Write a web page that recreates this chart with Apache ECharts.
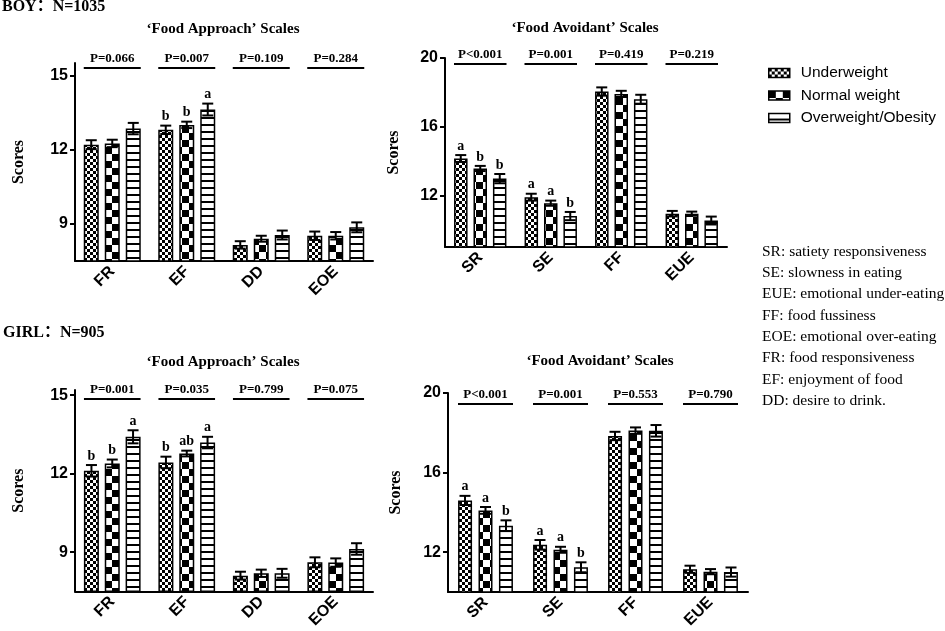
<!doctype html>
<html>
<head>
<meta charset="utf-8">
<title>CEBQ scales by weight status</title>
<script src="https://cdn.jsdelivr.net/npm/echarts@6/dist/echarts.min.js"></script>
<style>
  html, body { margin: 0; padding: 0; background: #fff; }
  #chart { width: 945px; height: 631px; }
</style>
</head>
<body>
<div id="chart"></div>
<script>
// categories and groups
var approachCats = ['FR', 'EF', 'DD', 'EOE'];
var avoidCats = ['SR', 'SE', 'FF', 'EUE'];
var groups = ['Underweight', 'Normal weight', 'Overweight/Obesity'];

// BOY - food approach (rows: underweight, normal, overweight)
var boyApproachMean = [[12.2, 12.8, 8.15, 8.52], [12.25, 13.0, 8.4, 8.52], [12.85, 13.62, 8.55, 8.86]];
var boyApproachErr = [[0.18, 0.17, 0.15, 0.17], [0.15, 0.13, 0.12, 0.15], [0.23, 0.24, 0.18, 0.2]];
var boyApproachSig = [['', 'b', '', ''], ['', 'b', '', ''], ['', 'a', '', '']];
var boyApproachP = ['P=0.066', 'P=0.007', 'P=0.109', 'P=0.284'];

// BOY - food avoidant
var boyAvoidMean = [[14.15, 11.9, 18.05, 10.94], [13.57, 11.55, 17.91, 10.94], [12.98, 10.8, 17.6, 10.54]];
var boyAvoidErr = [[0.2, 0.2, 0.24, 0.16], [0.15, 0.15, 0.18, 0.12], [0.27, 0.24, 0.26, 0.23]];
var boyAvoidSig = [['a', 'a', '', ''], ['b', 'a', '', ''], ['b', 'b', '', '']];
var boyAvoidP = ['P<0.001', 'P=0.001', 'P=0.419', 'P=0.219'];

// GIRL - food approach
var girlApproachMean = [[12.11, 12.43, 8.1, 8.61], [12.39, 12.77, 8.19, 8.6], [13.41, 13.19, 8.19, 9.12]];
var girlApproachErr = [[0.22, 0.22, 0.15, 0.19], [0.15, 0.11, 0.14, 0.16], [0.25, 0.22, 0.17, 0.22]];
var girlApproachSig = [['b', 'b', '', ''], ['b', 'ab', '', ''], ['a', 'a', '', '']];
var girlApproachP = ['P=0.001', 'P=0.035', 'P=0.799', 'P=0.075'];

// GIRL - food avoidant
var girlAvoidMean = [[14.6, 12.37, 17.84, 11.14], [14.1, 12.12, 18.11, 11.02], [13.33, 11.24, 18.1, 11.0]];
var girlAvoidErr = [[0.23, 0.24, 0.21, 0.18], [0.17, 0.15, 0.16, 0.13], [0.27, 0.25, 0.29, 0.23]];
var girlAvoidSig = [['a', 'a', '', ''], ['a', 'a', '', ''], ['b', 'b', '', '']];
var girlAvoidP = ['P<0.001', 'P=0.001', 'P=0.553', 'P=0.790'];

var approachTicks = [9, 12, 15];
var avoidTicks = [12, 16, 20];

var abbrevs = [
  'SR: satiety responsiveness',
  'SE: slowness in eating',
  'EUE: emotional under-eating',
  'FF: food fussiness',
  'EOE: emotional over-eating',
  'FR: food responsiveness',
  'EF: enjoyment of food',
  'DD: desire to drink.'
];

var SERIF = '"Liberation Serif", "Times New Roman", "Noto Sans CJK SC"';
var SANS = '"Liberation Sans", Arial';

// fill patterns for the three groups
function makePattern(kind) {
  var cv = document.createElement('canvas');
  var ctx;
  if (kind === 0) {
    cv.width = 6; cv.height = 6;
    ctx = cv.getContext('2d');
    ctx.fillStyle = '#fff'; ctx.fillRect(0, 0, 6, 6);
    ctx.fillStyle = '#000'; ctx.fillRect(0, 0, 3, 3); ctx.fillRect(3, 3, 3, 3);
  } else if (kind === 1) {
    cv.width = 14; cv.height = 14;
    ctx = cv.getContext('2d');
    ctx.fillStyle = '#fff'; ctx.fillRect(0, 0, 14, 14);
    ctx.fillStyle = '#000'; ctx.fillRect(0, 0, 7, 7); ctx.fillRect(7, 7, 7, 7);
  } else {
    cv.width = 8; cv.height = 7;
    ctx = cv.getContext('2d');
    ctx.fillStyle = '#fff'; ctx.fillRect(0, 0, 8, 7);
    ctx.fillStyle = '#000'; ctx.fillRect(0, 5, 8, 2);
  }
  return { image: cv, repeat: 'repeat' };
}
var patterns = [makePattern(0), makePattern(1), makePattern(2)];

var panels = [
  { cats: approachCats, mean: boyApproachMean, err: boyApproachErr, sig: boyApproachSig, pText: boyApproachP,
    ticks: approachTicks, min: 7.5, max: 15.5, grid: { left: 75, top: 63, width: 298, height: 198 },
    bw: 15, stride: 21, lineOffset: 5, nameGap: 48 },
  { cats: avoidCats, mean: boyAvoidMean, err: boyAvoidErr, sig: boyAvoidSig, pText: boyAvoidP,
    ticks: avoidTicks, min: 9, max: 20, grid: { left: 445, top: 58, width: 282, height: 189 },
    bw: 13.5, stride: 19.5, lineOffset: 6, nameGap: 43 },
  { cats: approachCats, mean: girlApproachMean, err: girlApproachErr, sig: girlApproachSig, pText: girlApproachP,
    ticks: approachTicks, min: 7.5, max: 15.2, grid: { left: 75, top: 390, width: 298, height: 202 },
    bw: 15, stride: 20.8, lineOffset: 9, nameGap: 48 },
  { cats: avoidCats, mean: girlAvoidMean, err: girlAvoidErr, sig: girlAvoidSig, pText: girlAvoidP,
    ticks: avoidTicks, min: 10, max: 20, grid: { left: 448, top: 393, width: 300, height: 199 },
    bw: 14, stride: 20.5, lineOffset: 11, nameGap: 44 }
];

function errorSeries(p, gi) {
  var data = [];
  p.mean.forEach(function (row, g) {
    row.forEach(function (v, c) { data.push([c, v, p.err[g][c], g]); });
  });
  return {
    type: 'custom', xAxisIndex: gi, yAxisIndex: gi, z: 5, silent: true, clip: false,
    encode: { x: 0, y: 1 },
    data: data,
    renderItem: function (params, api) {
      var c = api.value(0), v = api.value(1), e = api.value(2), g = api.value(3);
      var x = api.coord([c, v])[0] + (g - 1) * p.stride;
      var yTop = api.coord([c, v + e])[1];
      var yBot = api.coord([c, v - e])[1];
      var hw = 5.5;
      var st = { stroke: '#000', lineWidth: 2 };
      var children = [
        { type: 'line', shape: { x1: x, y1: yTop, x2: x, y2: yBot }, style: st },
        { type: 'line', shape: { x1: x - hw, y1: yTop, x2: x + hw, y2: yTop }, style: st },
        { type: 'line', shape: { x1: x - hw, y1: yBot, x2: x + hw, y2: yBot }, style: st }
      ];
      var s = p.sig[g][c];
      if (s) {
        children.push({ type: 'text', style: { text: s, x: x, y: yTop - 2, align: 'center', verticalAlign: 'bottom',
          font: 'bold 14px ' + SERIF, fill: '#000' } });
      }
      return { type: 'group', children: children };
    }
  };
}

function pSeries(p, gi) {
  return {
    type: 'custom', xAxisIndex: gi, yAxisIndex: gi, z: 5, silent: true, clip: false,
    encode: { x: 0, y: 1 },
    data: p.pText.map(function (t, c) { return [c, p.min]; }),
    renderItem: function (params, api) {
      var cx = api.coord([api.value(0), p.min])[0];
      var half = p.stride + p.bw / 2;
      var y = params.coordSys.y + p.lineOffset;
      return { type: 'group', children: [
        { type: 'line', shape: { x1: cx - half, y1: y, x2: cx + half, y2: y }, style: { stroke: '#000', lineWidth: 2 } },
        { type: 'text', style: { text: p.pText[params.dataIndex], x: cx, y: y - 9, align: 'center', verticalAlign: 'middle',
          font: 'bold 13px ' + SERIF, fill: '#000' } }
      ] };
    }
  };
}

var grids = [], xAxes = [], yAxes = [], series = [];
panels.forEach(function (p, gi) {
  grids.push(p.grid);
  xAxes.push({
    gridIndex: gi, type: 'category', data: p.cats,
    axisLine: { lineStyle: { color: '#000', width: 2 } },
    axisTick: { alignWithLabel: true, length: 5, lineStyle: { color: '#000', width: 2 } },
    axisLabel: { rotate: 45, color: '#000', fontWeight: 'bold', fontSize: 16, fontFamily: SANS, margin: 8 }
  });
  yAxes.push({
    gridIndex: gi, type: 'value', min: p.min, max: p.max,
    name: 'Scores', nameLocation: 'middle', nameGap: p.nameGap,
    nameTextStyle: { fontFamily: SERIF, fontWeight: 'bold', fontSize: 16, color: '#000' },
    axisLine: { show: true, lineStyle: { color: '#000', width: 2 } },
    axisTick: { show: true, length: 5, lineStyle: { color: '#000', width: 2 }, customValues: p.ticks },
    axisLabel: { customValues: p.ticks, color: '#000', fontWeight: 'bold', fontSize: 16, fontFamily: SANS, margin: 7 },
    splitLine: { show: false }
  });
  p.mean.forEach(function (row, g) {
    series.push({
      type: 'bar', name: groups[g], xAxisIndex: gi, yAxisIndex: gi, data: row,
      barWidth: p.bw, barGap: Math.round((p.stride - p.bw) / p.bw * 100) + '%',
      itemStyle: { color: patterns[g], borderColor: '#000', borderWidth: 1.5 },
      silent: true
    });
  });
  series.push(errorSeries(p, gi));
  series.push(pSeries(p, gi));
});

var graphics = [
  { type: 'text', x: 2, y: 7, style: { text: 'BOY：N=1035', font: 'bold 16px ' + SERIF, fill: '#000', verticalAlign: 'middle' } },
  { type: 'text', x: 3, y: 333, style: { text: 'GIRL：N=905', font: 'bold 16px ' + SERIF, fill: '#000', verticalAlign: 'middle' } },
  { type: 'text', x: 223, y: 29, style: { text: '\u2018Food Approach\u2019 Scales', font: 'bold 15px ' + SERIF, fill: '#000', align: 'center', verticalAlign: 'middle' } },
  { type: 'text', x: 585, y: 28, style: { text: '\u2018Food Avoidant\u2019 Scales', font: 'bold 15px ' + SERIF, fill: '#000', align: 'center', verticalAlign: 'middle' } },
  { type: 'text', x: 223, y: 362, style: { text: '\u2018Food Approach\u2019 Scales', font: 'bold 15px ' + SERIF, fill: '#000', align: 'center', verticalAlign: 'middle' } },
  { type: 'text', x: 600, y: 361, style: { text: '\u2018Food Avoidant\u2019 Scales', font: 'bold 15px ' + SERIF, fill: '#000', align: 'center', verticalAlign: 'middle' } }
];
abbrevs.forEach(function (t, i) {
  graphics.push({ type: 'text', x: 762, y: 251.7 + i * 21.3,
    style: { text: t, font: '15.5px ' + SERIF, fill: '#000', verticalAlign: 'middle' } });
});

var chart = echarts.init(document.getElementById('chart'));
chart.setOption({
  animation: false,
  backgroundColor: '#fff',
  legend: {
    data: groups, orient: 'vertical', left: 768, top: 65, padding: 0,
    icon: 'rect', itemWidth: 21, itemHeight: 9, itemGap: 6.5,
    itemStyle: { borderColor: '#000', borderWidth: 1.5 },
    textStyle: { fontFamily: SANS, fontSize: 15.5, color: '#000', padding: [0, 0, 0, 6] },
    selectedMode: false
  },
  grid: grids,
  xAxis: xAxes,
  yAxis: yAxes,
  series: series,
  graphic: graphics
});
</script>
</body>
</html>
